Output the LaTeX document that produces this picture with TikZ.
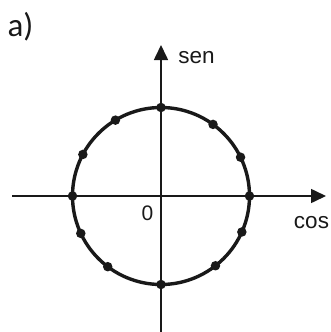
\documentclass[tikz,border=0pt]{standalone}
\usepackage{fontspec}
\setmainfont{Liberation Sans}
\newfontfamily\calfont{Carlito}
\usetikzlibrary{arrows.meta}
\tikzset{
  axis/.style={line width=1.6pt,-{Triangle[length=15pt,width=14pt]}},
  ring/.style={line width=3.4pt},
  dot/.style={circle,fill=black!90,inner sep=0pt,minimum size=9.5pt},
  lbl/.style={inner sep=0pt,font=\fontsize{22.5}{26}\selectfont,text=black!90}
}
\begin{document}
\begin{tikzpicture}[x=1pt,y=-1pt]
\useasboundingbox (0,0) rectangle (331,332);
\coordinate (O) at (161,196);
\coordinate (xl) at (12,196);
\coordinate (xr) at (326,196);
\coordinate (yb) at (161,332);
\coordinate (yt) at (161,45);
\draw[axis,black!90] (xl) -- (xr);
\draw[axis,black!90] (yb) -- (yt);
\draw[ring,black!90] (O) circle[radius=88.5];
\foreach \a/\n in {0/p1,26/p2,54/p3,90/p4,121/p5,152/p6,180/p7,205/p8,233/p9,270/p10,308/p11,336/p12}{
  \node[dot] (\n) at ({161+88.5*cos(\a)},{196-88.5*sin(\a)}) {};
}
\node[lbl] (sen) at (196.5,58) {sen};
\node[lbl] (cos) at (311.5,223) {cos};
\node[lbl,font=\fontsize{21}{25}\selectfont] (zero) at (147.5,213.5) {0};
\node[inner sep=0pt,font=\calfont\fontsize{33}{37}\selectfont,text=black!90] (lab) at (20.5,27) {a)};
\end{tikzpicture}
\end{document}
